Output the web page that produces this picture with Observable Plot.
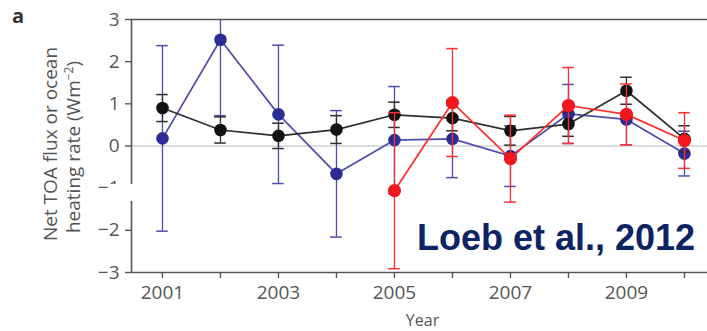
<!DOCTYPE html>
<html>
<head>
<meta charset="utf-8">
<script src="https://cdn.jsdelivr.net/npm/d3@7"></script>
<script src="https://cdn.jsdelivr.net/npm/@observablehq/plot@0.6"></script>
<style>
  html, body { margin: 0; padding: 0; background: #fff; }
  #chart { position: relative; width: 707px; height: 331px; overflow: hidden; }
  #chart svg { display: block; }
  .mask { position: absolute; background: #fff; }
</style>
</head>
<body>
<div id="chart"></div>
<script>
// Annual values, W m^-2, with one-sided uncertainty
const years = [2001, 2002, 2003, 2004, 2005, 2006, 2007, 2008, 2009, 2010];

// Net TOA flux (black)
const netToaFlux = [0.90, 0.38, 0.24, 0.39, 0.74, 0.66, 0.36, 0.52, 1.31, 0.17];
const netToaErr  = [0.32, 0.31, 0.30, 0.33, 0.30, 0.30, 0.34, 0.29, 0.32, 0.31];

// Ocean heating rate, first record (blue)
const oceanHeatA    = [0.18, 2.52, 0.75, -0.66, 0.14, 0.17, -0.24, 0.76, 0.63, -0.18];
const oceanHeatAErr = [2.20, 1.80, 1.64, 1.50, 1.27, 0.92, 0.72, 0.70, 0.60, 0.53];

// Ocean heating rate, second record (red)
const yearsB        = [2005, 2006, 2007, 2008, 2009, 2010];
const oceanHeatB    = [-1.06, 1.03, -0.30, 0.96, 0.75, 0.13];
const oceanHeatBErr = [1.85, 1.28, 1.03, 0.90, 0.72, 0.66];

const yTicks = [-3, -2, -1, 0, 1, 2, 3];
const xDomain = [2000.466, 2010.397];
const yDomain = [-3, 3];

const rows = (yrs, vals, errs) => yrs.map((year, i) => ({year, value: vals[i], err: errs[i]}));
const toa = rows(years, netToaFlux, netToaErr);
const ohcA = rows(years, oceanHeatA, oceanHeatAErr);
const ohcB = rows(yearsB, oceanHeatB, oceanHeatBErr);

const capHalf = 0.1; // half-width of error-bar caps, in years

function seriesMarks(data, lineColor, dotColor, r) {
  return [
    Plot.ruleX(data, {x: "year", y1: d => d.value - d.err, y2: d => d.value + d.err,
      stroke: lineColor, strokeWidth: 1.3, clip: "frame"}),
    Plot.ruleY(data, {y: d => d.value - d.err, x1: d => d.year - capHalf, x2: d => d.year + capHalf,
      stroke: lineColor, strokeWidth: 1.5, clip: "frame"}),
    Plot.ruleY(data, {y: d => d.value + d.err, x1: d => d.year - capHalf, x2: d => d.year + capHalf,
      stroke: lineColor, strokeWidth: 1.5, clip: "frame"}),
    Plot.line(data, {x: "year", y: "value", stroke: lineColor, strokeWidth: 1.7}),
    Plot.dot(data, {x: "year", y: "value", r, fill: dotColor, stroke: "none"})
  ];
}

const axisColor = "#555";
const signed = d => (d < 0 ? "\u2212" + Math.abs(d) : String(d));

const plot = Plot.plot({
  width: 707,
  height: 331,
  marginLeft: 131,
  marginRight: 0,
  marginTop: 19,
  marginBottom: 59,
  style: {fontFamily: "'Open Sans', sans-serif", color: axisColor, background: "#fff"},
  x: {domain: xDomain},
  y: {domain: yDomain},
  marks: [
    Plot.ruleY([0], {stroke: "#b8b8b8", strokeWidth: 1}),
    ...seriesMarks(ohcA, "#4d4dab", "#2c2c96", 6.3),
    ...seriesMarks(toa, "#2e2e2e", "#121212", 6.3),
    ...seriesMarks(ohcB, "#ff2d2d", "#f2161f", 6.6),
    Plot.ruleY(yDomain, {stroke: axisColor, strokeWidth: 1.6}),
    Plot.ruleX([xDomain[0]], {stroke: axisColor, strokeWidth: 1.6}),
    Plot.axisY({ticks: yTicks, tickSize: 6, tickPadding: 6, fontSize: 19, label: null,
      stroke: axisColor, strokeWidth: 1.4, tickFormat: signed}),
    Plot.axisX({ticks: years, tickSize: 6, tickPadding: 7, fontSize: 19, label: null,
      stroke: axisColor, strokeWidth: 1.4, tickFormat: d => (d % 2 ? String(d) : "")}),
    Plot.text(["Year"], {frameAnchor: "bottom", dx: 3, dy: 53, fontSize: 16, fill: axisColor, lineAnchor: "bottom"})
  ]
});

const chart = document.getElementById("chart");
chart.appendChild(plot);

const svg = d3.select(plot);

// Panel letter
svg.append("text")
  .attr("x", 12).attr("y", 23)
  .attr("text-anchor", "start")
  .attr("font-family", "'Open Sans', sans-serif")
  .attr("font-weight", 700).attr("font-size", 20)
  .attr("fill", "#333")
  .text("a");

// Two-line y-axis title
const yTitle = svg.append("g")
  .attr("font-family", "'Open Sans', sans-serif")
  .attr("font-size", 19)
  .attr("fill", axisColor)
  .attr("text-anchor", "middle");
yTitle.append("text")
  .attr("transform", "translate(57,144) rotate(-90)")
  .text("Net TOA flux or ocean");
const line2 = yTitle.append("text")
  .attr("transform", "translate(80,147) rotate(-90)");
line2.append("tspan").text("heating rate (Wm");
line2.append("tspan").attr("font-size", 12).attr("dy", -7).text("\u22122");
line2.append("tspan").attr("dy", 7).text(")");

// Citation
svg.append("text")
  .attr("x", 417).attr("y", 250)
  .attr("text-anchor", "start")
  .attr("font-family", "'Liberation Sans', Arial, sans-serif")
  .attr("font-weight", 700).attr("font-size", 36)
  .attr("fill", "#0c2464")
  .text("Loeb et al., 2012");

// White patch over part of the y axis near −1
const mask = document.createElement("div");
mask.className = "mask";
Object.assign(mask.style, {left: "108px", top: "184px", width: "26px", height: "17px"});
chart.appendChild(mask);
</script>
</body>
</html>
